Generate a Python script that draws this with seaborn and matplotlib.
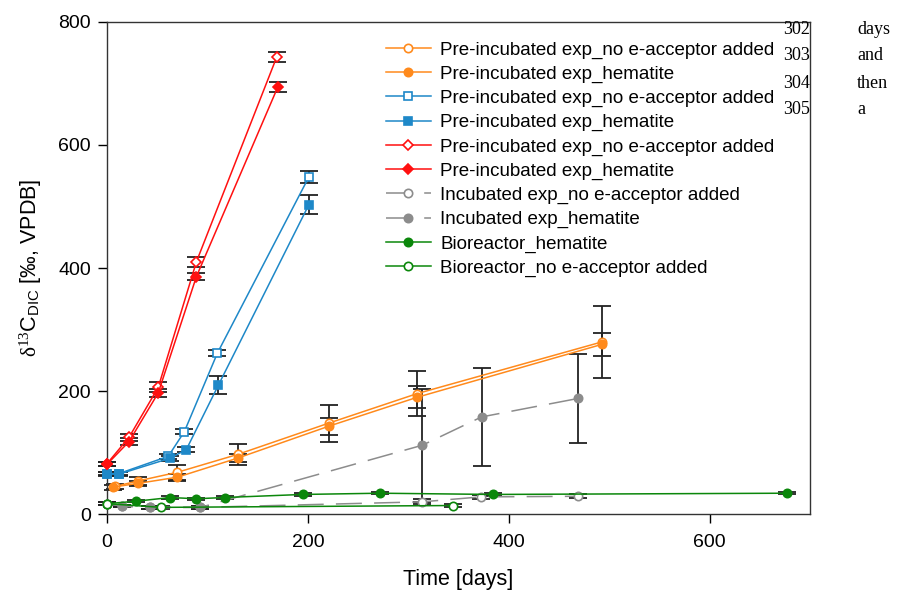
import pandas as pd
import seaborn as sns
import matplotlib.pyplot as plt

# Werte (Tage, delta13C, Fehler)
red_open_t = [0, 22, 51, 89, 169]
red_open_v = [82, 125, 206, 410, 743]
red_open_e = [3, 6, 8, 8, 8]
red_fill_t = [0, 22, 51, 89, 170]
red_fill_v = [81, 118, 197, 386, 694]
red_fill_e = [3, 6, 6, 6, 8]

blue_open_t = [0, 12, 61, 77, 110, 201]
blue_open_v = [66, 66, 94, 134, 262, 548]
blue_open_e = [3, 3, 4, 4, 5, 10]
blue_fill_t = [0, 12, 63, 79, 111, 201]
blue_fill_v = [65, 65, 91, 105, 210, 503]
blue_fill_e = [3, 3, 4, 4, 15, 15]

orange_open_t = [8, 31, 70, 130, 221, 309, 493]
orange_open_v = [45, 54, 68, 97, 148, 196, 280]
orange_open_e = [4, 6, 12, 17, 30, 37, 58]
orange_fill_t = [6, 31, 70, 130, 221, 309, 493]
orange_fill_v = [44, 50, 60, 91, 143, 190, 276]
orange_fill_e = [4, 4, 6, 6, 14, 18, 19]

gray_open_t = [0, 15, 43, 93, 314, 372, 469]
gray_open_v = [17, 13, 11, 11, 20, 28, 29]
gray_open_e = [2, 2, 2, 2, 4, 3, 3]
gray_fill_t = [0, 15, 43, 93, 314, 373, 469]
gray_fill_v = [17, 13, 11, 11, 112, 158, 188]
gray_fill_e = [2, 2, 2, 2, 92, 80, 73]

green_fill_t = [0, 29, 63, 89, 117, 195, 272, 384, 677]
green_fill_v = [17, 21, 27, 25, 27, 32, 34, 32, 34]
green_open_t = [0, 54, 345]
green_open_v = [17, 11, 14]

labels = ["Pre-incubated exp_no e-acceptor added", "Pre-incubated exp_hematite",
          "Pre-incubated exp_no e-acceptor added", "Pre-incubated exp_hematite",
          "Pre-incubated exp_no e-acceptor added", "Pre-incubated exp_hematite",
          "Incubated exp_no e-acceptor added", "Incubated exp_hematite",
          "Bioreactor_hematite", "Bioreactor_no e-acceptor added"]

orange = "#FF8A1C"
blue = "#1E88C8"
red = "#FF1010"
gray = "#8C8C8C"
green = "#0B870B"
dash = (0, (17, 8))

series = [
    (orange_open_t, orange_open_v, orange_open_e, orange, "o", True, "-"),
    (orange_fill_t, orange_fill_v, orange_fill_e, orange, "o", False, "-"),
    (blue_open_t, blue_open_v, blue_open_e, blue, "s", True, "-"),
    (blue_fill_t, blue_fill_v, blue_fill_e, blue, "s", False, "-"),
    (red_open_t, red_open_v, red_open_e, red, "D", True, "-"),
    (red_fill_t, red_fill_v, red_fill_e, red, "D", False, "-"),
    (gray_open_t, gray_open_v, gray_open_e, gray, "o", True, dash),
    (gray_fill_t, gray_fill_v, gray_fill_e, gray, "o", False, dash),
    (green_fill_t, green_fill_v, [2] * len(green_fill_t), green, "o", False, "-"),
    (green_open_t, green_open_v, [2] * len(green_open_t), green, "o", True, "-"),
]

plt.rcParams['font.family'] = ['Liberation Sans', 'DejaVu Sans']
plt.rcParams['mathtext.fontset'] = 'custom'
plt.rcParams['mathtext.rm'] = 'Liberation Serif'
plt.rcParams['mathtext.it'] = 'Liberation Serif:italic'
plt.rcParams['mathtext.sf'] = 'Liberation Sans'

fig, ax = plt.subplots(figsize=(9.03, 5.93), dpi=100)
fig.subplots_adjust(left=0.1185, right=0.897, bottom=0.133, top=0.963)

# Fehlerbalken zuerst, damit die Linien darueber liegen
for t, v, e, c, m, hollow, ls in series:
    ax.errorbar(t, v, yerr=e, fmt="none", ecolor="#222222", elinewidth=1.3,
                capsize=6.5, capthick=1.3, zorder=2, clip_on=False)

for (t, v, e, c, m, hollow, ls), lab in zip(series, labels):
    df = pd.DataFrame({"t": t, "v": v})
    ms = 6 if m != "D" else 5.5
    sns.lineplot(data=df, x="t", y="v", ax=ax, color=c, marker=m, markersize=ms,
                 markerfacecolor="white" if hollow else c, markeredgecolor=c,
                 markeredgewidth=1.2, linestyle=ls, linewidth=1.1, label=lab,
                 zorder=3, clip_on=False)

ax.set_xlim(0, 700)
ax.set_ylim(0, 800)
ax.set_xticks([0, 200, 400, 600])
ax.set_yticks([0, 200, 400, 600, 800])
ax.tick_params(axis="both", labelsize=14, length=6.5, width=1, direction="out")
ax.tick_params(axis="x", pad=8)
ax.tick_params(axis="y", pad=5)
for s in ax.spines.values():
    s.set_linewidth(1.0)
    s.set_color("#333333")
ax.set_xlabel("Time [days]", fontsize=15.5, labelpad=13)
ax.set_ylabel(r"$\mathrm{\delta}^{13}$C$_{\mathsf{DIC}}$ [‰, VPDB]", fontsize=15.5, labelpad=10)

ax.legend(loc="upper left", bbox_to_anchor=(0.386, 0.976), frameon=False,
          fontsize=13.5, handlelength=2.4, handletextpad=0.5, labelspacing=0.37,
          borderaxespad=0)

# Zeilennummern und Text aus dem umgebenden Dokument
for i, (num, word) in enumerate([("302", "days"), ("303", "and"), ("304", "then"), ("305", "a")]):
    y = 1 - (29 + 27 * i) / 593
    fig.text(783 / 903, y, num, family="Liberation Serif", fontsize=13, va="center")
    fig.text(857 / 903, y, word, family="Liberation Serif", fontsize=13, va="center")

plt.savefig("out.png", dpi=100)
